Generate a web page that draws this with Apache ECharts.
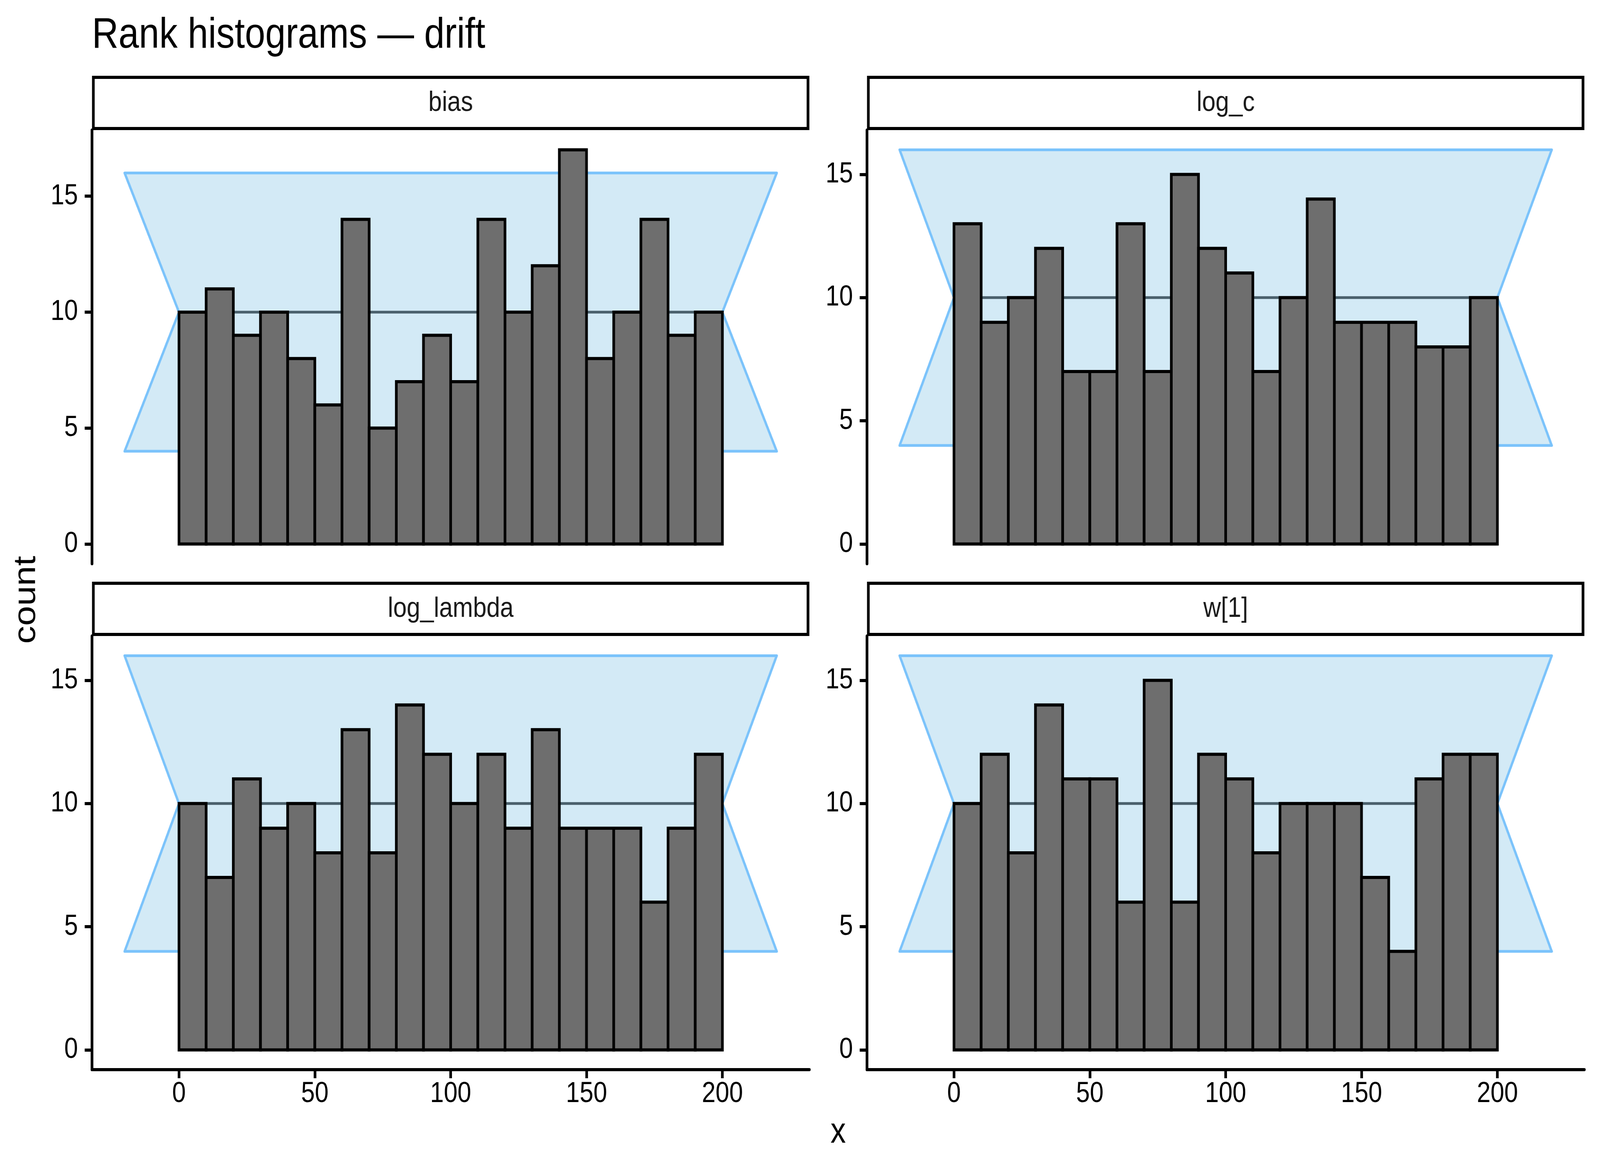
<!DOCTYPE html>
<html>
<head>
<meta charset="utf-8">
<script src="https://cdn.jsdelivr.net/npm/echarts@6/dist/echarts.min.js"></script>
<style>
html,body{margin:0;padding:0;background:#fff;overflow:hidden;}
#chart{width:4800px;height:3000px;transform-origin:0 0;}
</style>
</head>
<body>
<div id="chart"></div>
<script>
// ---------------- data ----------------
const panelNames = ['bias', 'log_c', 'log_lambda', 'w[1]'];
const binLefts = [0, 10, 20, 30, 40, 50, 60, 70, 80, 90, 100, 110, 120, 130, 140, 150, 160, 170, 180, 190];
const binWidth = 10;
const countsBias      = [10, 11, 9, 10, 8, 6, 14, 5, 7, 9, 7, 14, 10, 12, 17, 8, 10, 14, 9, 10];
const countsLogC      = [13, 9, 10, 12, 7, 7, 13, 7, 15, 12, 11, 7, 10, 14, 9, 9, 9, 8, 8, 10];
const countsLogLambda = [10, 7, 11, 9, 10, 8, 13, 8, 14, 12, 10, 12, 9, 13, 9, 9, 9, 6, 9, 12];
const countsW1        = [10, 12, 8, 14, 11, 11, 6, 15, 6, 12, 11, 8, 10, 10, 10, 7, 4, 11, 12, 12];
const panelCounts = [countsBias, countsLogC, countsLogLambda, countsW1];
// expected-count band (uniform ranks)
const bandLower = 4;
const bandMean = 10;
const bandUpper = 16;
const rankRange = [0, 200];
const bandOuter = [-20, 220];
const xTicks = [0, 50, 100, 150, 200];
const yTicks = [0, 5, 10, 15];
const titleText = 'Rank histograms \u2014 drift';
const xTitle = 'x';
const yTitle = 'count';

// ---------------- layout ----------------
const FONT = '"Liberation Sans", Arial, Helvetica, sans-serif';
const colLeft = [276, 2601];
const panelW = 2152;
const rowTop = [333, 1628];
const panelH = 1110;
const stripH = 139;

const COL_FILL = '#d3eaf6';
const COL_EDGE = '#7bc3fb';
const COL_MEAN = '#4a606c';
const COL_BAR = '#6e6e6e';

function expand(lo, hi) { const r = hi - lo; return [lo - 0.05 * r, hi + 0.05 * r]; }
const xExt = expand(bandOuter[0], bandOuter[1]);

const grids = [], xAxes = [], yAxes = [], series = [], graphics = [];

panelNames.forEach((name, i) => {
  const col = i % 2, row = Math.floor(i / 2);
  const left = colLeft[col], top = rowTop[row];
  grids.push({ left: left, top: top, width: panelW, height: panelH, containLabel: false });
  const counts = panelCounts[i];
  const yExt = expand(0, Math.max(Math.max.apply(null, counts), bandUpper));
  const isBottom = row === 1;
  xAxes.push({
    type: 'value', gridIndex: i, min: xExt[0], max: xExt[1],
    show: isBottom,
    axisLine: { show: isBottom, onZero: false, lineStyle: { color: '#000', width: 8 } },
    axisTick: { show: isBottom, customValues: xTicks, length: 22, lineStyle: { color: '#000', width: 8 } },
    axisLabel: { show: isBottom, customValues: xTicks, fontSize: 74, color: '#000', fontFamily: FONT, margin: 26 },
    splitLine: { show: false }
  });
  yAxes.push({
    type: 'value', gridIndex: i, min: yExt[0], max: yExt[1],
    axisLine: { show: true, onZero: false, lineStyle: { color: '#000', width: 8 } },
    axisTick: { show: true, customValues: yTicks, length: 22, lineStyle: { color: '#000', width: 8 } },
    axisLabel: { show: true, customValues: yTicks, fontSize: 74, color: '#000', fontFamily: FONT, margin: 42 },
    splitLine: { show: false }
  });
  // band polygon
  series.push({
    type: 'custom', xAxisIndex: i, yAxisIndex: i, z: 1, silent: true,
    data: [[rankRange[0], bandMean]],
    renderItem: function (params, api) {
      const pts = [
        [bandOuter[0], bandUpper], [bandOuter[1], bandUpper], [rankRange[1], bandMean],
        [bandOuter[1], bandLower], [bandOuter[0], bandLower], [rankRange[0], bandMean]
      ].map(p => api.coord(p));
      return { type: 'polygon', shape: { points: pts },
        style: { fill: COL_FILL, stroke: COL_EDGE, lineWidth: 7, lineJoin: 'round' } };
    }
  });
  // mean line
  series.push({
    type: 'line', xAxisIndex: i, yAxisIndex: i, z: 2, silent: true,
    data: [[rankRange[0], bandMean], [rankRange[1], bandMean]],
    symbol: 'none', lineStyle: { color: COL_MEAN, width: 7 }
  });
  // histogram bars
  series.push({
    type: 'custom', xAxisIndex: i, yAxisIndex: i, z: 3, silent: true,
    data: binLefts.map((b, k) => [b, b + binWidth, counts[k]]),
    encode: { x: [0, 1], y: 2 },
    renderItem: function (params, api) {
      const p0 = api.coord([api.value(0), 0]);
      const p1 = api.coord([api.value(1), api.value(2)]);
      return { type: 'rect',
        shape: { x: p0[0], y: p1[1], width: p1[0] - p0[0], height: p0[1] - p1[1] },
        style: { fill: COL_BAR, stroke: '#000', lineWidth: 8 } };
    }
  });
  // strip
  const sTop = top - stripH;
  graphics.push({ type: 'rect', z: 10,
    shape: { x: left + 4, y: sTop + 4, width: panelW - 8, height: stripH - 8 },
    style: { fill: '#fff', stroke: '#000', lineWidth: 8 } });
  graphics.push({ type: 'text', z: 11, x: left + panelW / 2, y: sTop + stripH / 2,
    style: { text: name, fontSize: 73, fontFamily: FONT, fill: '#1a1a1a', align: 'center', verticalAlign: 'middle' } });
});

graphics.push({ type: 'text', x: 276, y: 92,
  style: { text: titleText, fontSize: 110, fontFamily: FONT, fill: '#000', align: 'left', verticalAlign: 'middle' } });
graphics.push({ type: 'text', x: (colLeft[0] + colLeft[1] + panelW) / 2, y: 2900,
  style: { text: xTitle, fontSize: 92, fontFamily: FONT, fill: '#000', align: 'center', verticalAlign: 'middle' } });
graphics.push({ type: 'text', x: 80, y: (rowTop[0] + rowTop[1] + panelH) / 2, rotation: Math.PI / 2,
  style: { text: yTitle, fontSize: 92, fontFamily: FONT, fill: '#000', align: 'center', verticalAlign: 'middle' } });

// fit the 4800-wide design into the actual window width
const el = document.getElementById('chart');
const sx = Math.min(1, (window.innerWidth || 4800) / 4800);
if (sx < 1) el.style.transform = 'scaleX(' + sx + ')';

const chart = echarts.init(el, null, { renderer: 'canvas', width: 4800, height: 3000 });
chart.setOption({
  backgroundColor: '#fff',
  animation: false,
  grid: grids, xAxis: xAxes, yAxis: yAxes, series: series,
  graphic: graphics
});
</script>
</body>
</html>
